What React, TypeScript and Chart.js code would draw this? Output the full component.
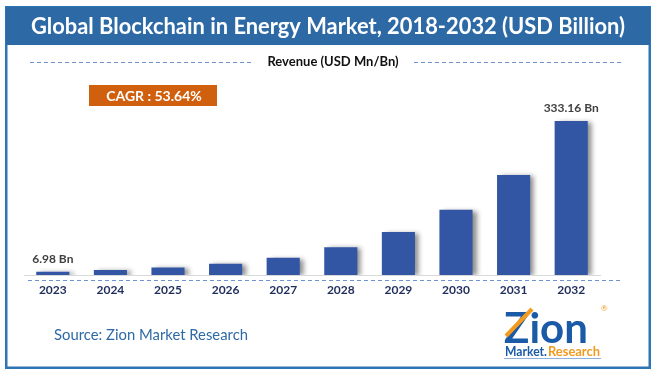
import React, { useEffect, useRef } from "react";
import { Chart, registerables } from "chart.js";

Chart.register(...registerables);

const years = ["2023", "2024", "2025", "2026", "2027", "2028", "2029", "2030", "2031", "2032"];
const revenue = [6.98, 10.7, 16.0, 24.5, 37.5, 60.0, 93.0, 141.0, 216.0, 333.16];
const valueLabels = ["6.98 Bn", "", "", "", "", "", "", "", "", "333.16 Bn"];
const titleText = "Global Blockchain in Energy Market, 2018-2032 (USD Billion)";
const revenueText = "Revenue (USD Mn/Bn)";
const cagrText = "CAGR : 53.64%";
const sourceText = "Source: Zion Market Research";

const FONT = "Lato, 'Open Sans', sans-serif";

function dashedLine(ctx: CanvasRenderingContext2D, x1: number, x2: number, y: number) {
  ctx.save();
  ctx.strokeStyle = "#6f93d0";
  ctx.lineWidth = 1;
  ctx.setLineDash([4, 3]);
  ctx.beginPath();
  ctx.moveTo(x1, y + 0.5);
  ctx.lineTo(x2, y + 0.5);
  ctx.stroke();
  ctx.restore();
}

const decorPlugin = {
  id: "decor",
  beforeDraw(chart: any) {
    const ctx: CanvasRenderingContext2D = chart.ctx;
    ctx.save();
    ctx.fillStyle = "#ffffff";
    ctx.fillRect(0, 0, chart.width, chart.height);
    // outer border
    ctx.strokeStyle = "#2e75b6";
    ctx.lineWidth = 2.5;
    ctx.strokeRect(6.25, 7.25, 643.5, 360.5);
    // banner
    ctx.fillStyle = "#2c69a5";
    ctx.fillRect(6, 7, 644, 38);
    ctx.fillStyle = "#ffffff";
    ctx.font = "bold 22px " + FONT;
    ctx.textAlign = "center";
    ctx.textBaseline = "middle";
    ctx.fillText(titleText, 328, 27, 594);
    // revenue line
    dashedLine(ctx, 30, 251, 62);
    dashedLine(ctx, 414, 622, 62);
    ctx.fillStyle = "#111111";
    ctx.font = "bold 13px " + FONT;
    ctx.fillText(revenueText, 333, 62, 136);
    // CAGR box
    ctx.fillStyle = "#d0600e";
    ctx.fillRect(89, 85, 128, 21);
    ctx.fillStyle = "#ffffff";
    ctx.font = "bold 14px " + FONT;
    ctx.fillText(cagrText, 154, 96, 98);
    ctx.restore();
  },
  afterDraw(chart: any) {
    const ctx: CanvasRenderingContext2D = chart.ctx;
    ctx.save();
    dashedLine(ctx, 28, 622, 280);
    // value labels
    const meta = chart.getDatasetMeta(0);
    ctx.fillStyle = "#404040";
    ctx.font = "bold 12px " + FONT;
    ctx.textAlign = "center";
    ctx.textBaseline = "middle";
    meta.data.forEach((bar: any, i: number) => {
      if (valueLabels[i]) ctx.fillText(valueLabels[i], bar.x, bar.y - 13);
    });
    // source
    ctx.fillStyle = "#2e6aa6";
    ctx.font = "15px " + FONT;
    ctx.textAlign = "left";
    ctx.fillText(sourceText, 54, 335, 194);
    // logo
    ctx.fillStyle = "#1a5aa6";
    ctx.font = "bold 42px " + FONT;
    ctx.textBaseline = "alphabetic";
    ctx.fillText("Zion", 504, 343, 98);
    ctx.strokeStyle = "#f39a1f";
    ctx.lineWidth = 4;
    ctx.beginPath();
    ctx.moveTo(506, 336);
    ctx.lineTo(532, 309);
    ctx.stroke();
    ctx.fillStyle = "#f39a1f";
    ctx.font = "8px " + FONT;
    ctx.fillText("®", 601, 311);
    ctx.font = "bold 13px " + FONT;
    ctx.fillStyle = "#1a5aa6";
    ctx.fillText("Market.", 505, 356, 42);
    ctx.fillStyle = "#f39a1f";
    ctx.fillText("Research", 548, 356, 52);
    ctx.strokeStyle = "#8fb0d8";
    ctx.lineWidth = 1;
    ctx.beginPath();
    ctx.moveTo(504, 358.5);
    ctx.lineTo(601, 358.5);
    ctx.stroke();
    ctx.restore();
  },
};

const shadowPlugin = {
  id: "barShadow",
  beforeDatasetsDraw(chart: any) {
    const ctx = chart.ctx;
    ctx.save();
    ctx.shadowColor = "rgba(0,0,0,0.45)";
    ctx.shadowOffsetX = 4;
    ctx.shadowOffsetY = 1;
    ctx.shadowBlur = 5;
  },
  afterDatasetsDraw(chart: any) {
    chart.ctx.restore();
  },
};

export default function App() {
  const ref = useRef<HTMLCanvasElement | null>(null);
  useEffect(() => {
    if (!ref.current) return;
    const chart = new Chart(ref.current, {
      type: "bar",
      data: {
        labels: years,
        datasets: [
          {
            data: revenue,
            backgroundColor: "#3256a4",
            borderWidth: 0,
            categoryPercentage: 1,
            barPercentage: 0.575,
          },
        ],
      },
      options: {
        animation: false,
        responsive: false,
        layout: { padding: { left: 24, right: 56, top: 90, bottom: 70.6 } },
        plugins: { legend: { display: false }, tooltip: { enabled: false }, title: { display: false } },
        scales: {
          x: {
            grid: { display: false, drawTicks: false },
            border: { display: true, color: "#d9d9d9", width: 1 },
            ticks: { color: "#1f2d5c", font: { family: FONT, size: 12, weight: "bold" }, padding: 8 },
          },
          y: { display: false, min: 0, max: 400 },
        },
      },
      plugins: [shadowPlugin, decorPlugin],
    });
    return () => chart.destroy();
  }, []);
  return (
    <div style={{ position: "fixed", left: 0, top: 0, width: 656, height: 376 }}>
      <canvas ref={ref} width={656} height={376} style={{ width: 656, height: 376 }} />
    </div>
  );
}
